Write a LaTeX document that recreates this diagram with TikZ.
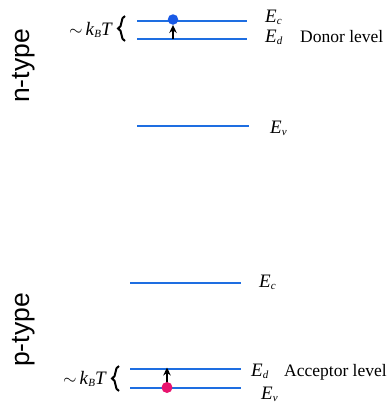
\documentclass[tikz,border=0pt]{standalone}
\usepackage{fontspec}
\setmainfont{Liberation Serif}
\newfontfamily\sansf{Liberation Sans}
\usetikzlibrary{decorations.pathreplacing,arrows.meta}
\definecolor{levelblue}{RGB}{30,110,225}
\definecolor{electron}{RGB}{25,90,230}
\definecolor{hole}{RGB}{232,20,110}
\tikzset{
  level/.style={draw=levelblue, line width=2.8pt},
  elabel/.style={anchor=base west, inner sep=0pt, font=\fontsize{19}{19}\selectfont},
  dlabel/.style={anchor=base west, inner sep=0pt, font=\fontsize{17.5}{17.5}\selectfont},
  kbt/.style={anchor=base east, inner sep=0pt, font=\fontsize{19}{19}\selectfont},
  typelabel/.style={rotate=90, inner sep=0pt, font=\sansf\fontsize{26.5}{26.5}\selectfont},
  gapbrace/.style={decorate, decoration={brace, amplitude=7pt}, line width=2pt},
  jump/.style={-{Stealth[length=8pt,width=7.5pt]}, line width=2.6pt},
}
% energy level symbol with a small lowered subscript
\newcommand{\Elev}[1]{\textit{E}\raisebox{-0.3ex}{\fontsize{11}{11}\selectfont\textit{#1}}}
\newcommand{\kT}{$\sim$\,\textit{k}\raisebox{-0.3ex}{\fontsize{11}{11}\selectfont\textit{B}}\textit{T}}
\begin{document}
\begin{tikzpicture}[x=1pt, y=-1pt]
\useasboundingbox (0,0) rectangle (390,408);

% ---------- n-type ----------
\node[typelabel] (ntype) at (24,66) {n-type};
\coordinate (nEcL) at (137,21);  \coordinate (nEcR) at (247,21);
\coordinate (nEdL) at (137,39);  \coordinate (nEdR) at (247,39);
\coordinate (nEvL) at (137,126); \coordinate (nEvR) at (249,126);
\draw[level] (nEcL) -- (nEcR);
\draw[level] (nEdL) -- (nEdR);
\draw[level] (nEvL) -- (nEvR);
\node[elabel] (nEc) at (265,22) {\Elev{c}};
\node[elabel] (nEd) at (265,42) {\Elev{d}};
\node[dlabel] (donor) at (300,42) {Donor level};
\node[elabel] (nEv) at (270,133) {\Elev{v}};
\coordinate (nBot) at (125,41); \coordinate (nTop) at (125,16);
\draw[gapbrace] (nBot) -- (nTop);
\node[kbt] (nkT) at (113,35) {\kT};
\node[circle, fill=electron, minimum size=10.5pt, inner sep=0pt] (edot) at (173,19.5) {};
\coordinate (estart) at (173,39);
\draw[jump] (estart) -- (edot.south);

% ---------- p-type ----------
\node[typelabel] (ptype) at (24,330) {p-type};
\coordinate (pEcL) at (130,283); \coordinate (pEcR) at (241,283);
\coordinate (pEdL) at (130,369); \coordinate (pEdR) at (241,369);
\coordinate (pEvL) at (130,388); \coordinate (pEvR) at (241,388);
\draw[level] (pEcL) -- (pEcR);
\draw[level] (pEdL) -- (pEdR);
\draw[level] (pEvL) -- (pEvR);
\node[elabel] (pEc) at (259,287) {\Elev{c}};
\node[elabel] (pEd) at (251,376) {\Elev{d}};
\node[dlabel] (acceptor) at (284,376) {Acceptor level};
\node[elabel] (pEv) at (261,399) {\Elev{v}};
\coordinate (pBot) at (119,391); \coordinate (pTop) at (119,366);
\draw[gapbrace] (pBot) -- (pTop);
\node[kbt] (pkT) at (107,384) {\kT};
\coordinate (pend) at (167,367.5);
\coordinate (pstart) at (167,388);
\draw[jump] (pstart) -- (pend);
\node[circle, fill=hole, minimum size=11pt, inner sep=0pt] (hdot) at (167,387.5) {};
\end{tikzpicture}
\end{document}
